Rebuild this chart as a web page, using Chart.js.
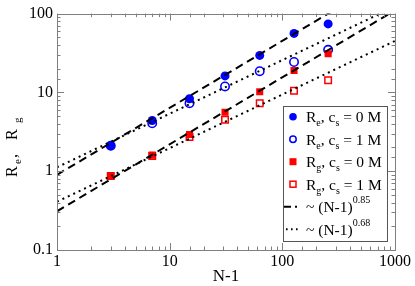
<!DOCTYPE html>
<html>
<head>
<meta charset="utf-8">
<script src="https://cdn.jsdelivr.net/npm/chart.js@4/dist/chart.umd.min.js"></script>
<style>
html,body{margin:0;padding:0;background:#fff;}
#wrap{width:415px;height:286px;position:relative;}
</style>
</head>
<body>
<div id="wrap"><canvas id="c" width="415" height="286"></canvas></div>
<script>
// ---- data ----
const nMinus1 = [3, 7, 15, 31, 63, 127, 255];
const reSalt0 = [2.1, 4.4, 8.3, 16.2, 29.5, 56, 74];
const reSalt1 = [2.1, 4.05, 7.3, 11.9, 18.6, 24.3, 34.7];
const rgSalt0 = [0.87, 1.6, 2.93, 5.6, 10.2, 19.0, 31.0];
const rgSalt1 = [0.87, 1.56, 2.72, 4.5, 7.3, 10.5, 14.3];
// fit lines: endpoints at N-1 = 1 and N-1 = 1000
const fitX = [1, 1000];
const fitRe085 = [0.9, 319];
const fitRg085 = [0.31, 110];
const fitRe068 = [1.12, 123];
const fitRg068 = [0.41, 45];
const xTickLabels = ['1', '10', '100', '1000'];
const yTickLabels = ['0.1', '1', '10', '100'];

const BLUE = '#0000ff', RED = '#ff0000';
const pts = (xs, ys) => xs.map((x, i) => ({x: x, y: ys[i]}));
const SERIF = '"Liberation Serif", "DejaVu Serif", serif';

function isDecade(v){ const l = Math.log10(v); return Math.abs(l - Math.round(l)) < 1e-6; }
function fmt(v){ return String(Number(v.toPrecision(3))); }

function richText(ctx, x, y, parts){
  // parts: [text, mode] mode: 0 normal, 1 sub, 2 sup
  let cx = x;
  for (const [t, m] of parts){
    const size = m ? 10 : 15.5;
    ctx.font = size + 'px ' + SERIF;
    const dy = m === 1 ? 4 : (m === 2 ? -9 : 0);
    ctx.fillText(t, cx, y + dy);
    cx += ctx.measureText(t).width;
  }
  return cx;
}

const decorPlugin = {
  id: 'decor',
  afterDraw(chart){
    const ctx = chart.ctx;
    const a = chart.chartArea;
    const xs = chart.scales.x, ys = chart.scales.y;
    ctx.save();
    // frame
    ctx.strokeStyle = '#7f7f7f';
    ctx.lineWidth = 1;
    ctx.strokeRect(Math.round(a.left) + 0.5, Math.round(a.top) + 0.5,
                   Math.round(a.right - a.left), Math.round(a.bottom - a.top));
    ctx.beginPath();
    for (const t of xs.ticks){
      const px = Math.round(xs.getPixelForValue(t.value)) + 0.5;
      const len = isDecade(t.value) ? 7 : 3.5;
      ctx.moveTo(px, a.bottom); ctx.lineTo(px, a.bottom - len);
      ctx.moveTo(px, a.top); ctx.lineTo(px, a.top + len);
    }
    for (const t of ys.ticks){
      const py = Math.round(ys.getPixelForValue(t.value)) + 0.5;
      const len = isDecade(t.value) ? 7 : 3.5;
      ctx.moveTo(a.left, py); ctx.lineTo(a.left + len, py);
      ctx.moveTo(a.right, py); ctx.lineTo(a.right - len, py);
    }
    ctx.stroke();

    // axis titles
    ctx.fillStyle = '#000';
    ctx.textBaseline = 'alphabetic';
    ctx.textAlign = 'center';
    ctx.font = '17px ' + SERIF;
    ctx.fillText('N-1', (a.left + a.right) / 2, 281);
    ctx.textAlign = 'left';
    ctx.save();
    ctx.translate(17, 177);
    ctx.rotate(-Math.PI / 2);
    ctx.font = '16px ' + SERIF;
    ctx.fillText('R', 0, 0);
    ctx.font = '11px ' + SERIF;
    ctx.fillText('e', 13, 4);
    ctx.font = '16px ' + SERIF;
    ctx.fillText(',', 19, 0);
    ctx.fillText('R', 37, 0);
    ctx.font = '11px ' + SERIF;
    ctx.fillText('g', 54, 4);
    ctx.restore();

    // legend
    const L = 283, T = 106, R = 387, B = 241;
    ctx.fillStyle = '#fff';
    ctx.fillRect(L, T, R - L, B - T);
    ctx.strokeStyle = '#555';
    ctx.lineWidth = 1;
    ctx.strokeRect(L + 0.5, T + 0.5, R - L, B - T);
    const rows = [116.7, 139.2, 161.7, 184.2, 206.7, 229.2];
    const sx = 293, tx = 306;
    // symbols
    ctx.lineWidth = 1.5;
    ctx.fillStyle = BLUE; ctx.beginPath(); ctx.arc(sx, rows[0], 3.8, 0, 2*Math.PI); ctx.fill();
    ctx.strokeStyle = BLUE; ctx.beginPath(); ctx.arc(sx, rows[1], 3.2, 0, 2*Math.PI); ctx.stroke();
    ctx.fillStyle = RED; ctx.fillRect(sx - 3.5, rows[2] - 3.5, 7, 7);
    ctx.strokeStyle = RED; ctx.strokeRect(sx - 3, rows[3] - 3, 6, 6);
    ctx.strokeStyle = '#000'; ctx.lineWidth = 2;
    ctx.beginPath(); ctx.moveTo(284, rows[4]); ctx.lineTo(291, rows[4]);
    ctx.moveTo(295, rows[4]); ctx.lineTo(297, rows[4]); ctx.stroke();
    ctx.beginPath();
    for (const dx of [286, 291, 296]){ ctx.moveTo(dx, rows[5]); ctx.lineTo(dx + 1.6, rows[5]); }
    ctx.stroke();
    // texts
    ctx.fillStyle = '#000';
    ctx.textAlign = 'left';
    const bl = 5.5;
    richText(ctx, tx, rows[0] + bl, [['R',0],['e',1],[', c',0],['s',1],[' = 0 M',0]]);
    richText(ctx, tx, rows[1] + bl, [['R',0],['e',1],[', c',0],['s',1],[' = 1 M',0]]);
    richText(ctx, tx, rows[2] + bl, [['R',0],['g',1],[', c',0],['s',1],[' = 0 M',0]]);
    richText(ctx, tx, rows[3] + bl, [['R',0],['g',1],[', c',0],['s',1],[' = 1 M',0]]);
    richText(ctx, tx, rows[4] + bl, [['~ (N-1)',0],['0.85',2]]);
    richText(ctx, tx, rows[5] + bl, [['~ (N-1)',0],['0.68',2]]);
    ctx.restore();
  }
};

const fitStyle = (dash) => ({
  showLine: true, borderColor: '#000', borderWidth: 2, borderDash: dash,
  pointRadius: 0, fill: false, order: 0
});

new Chart(document.getElementById('c'), {
  type: 'scatter',
  data: {
    datasets: [
      Object.assign({data: pts(fitX, fitRe085)}, fitStyle([8, 5])),
      Object.assign({data: pts(fitX, fitRg085)}, fitStyle([8, 5])),
      Object.assign({data: pts(fitX, fitRe068)}, fitStyle([2, 4])),
      Object.assign({data: pts(fitX, fitRg068)}, fitStyle([2, 4])),
      {data: pts(nMinus1, reSalt1), pointStyle: 'circle', pointRadius: 4.2, borderWidth: 1.6,
       borderColor: BLUE, backgroundColor: 'rgba(0,0,0,0)', order: 2},
      {data: pts(nMinus1, reSalt0), pointStyle: 'circle', pointRadius: 4.5, borderWidth: 0,
       borderColor: BLUE, backgroundColor: BLUE, order: 1},
      {data: pts(nMinus1, rgSalt1), pointStyle: 'rect', pointRadius: 4.6, borderWidth: 1.5,
       borderColor: RED, backgroundColor: 'rgba(0,0,0,0)', order: 2},
      {data: pts(nMinus1, rgSalt0), pointStyle: 'rect', pointRadius: 5, borderWidth: 0,
       borderColor: RED, backgroundColor: RED, order: 1}
    ]
  },
  options: {
    responsive: false,
    animation: false,
    events: [],
    layout: {padding: {left: 0, right: 20, top: 10, bottom: 0}},
    plugins: {legend: {display: false}, tooltip: {enabled: false}},
    scales: {
      x: {
        type: 'logarithmic', min: 1, max: 1000,
        grid: {display: false, drawTicks: false}, border: {display: false},
        ticks: {autoSkip: false, maxRotation: 0, color: '#000', padding: 2,
                font: {family: SERIF, size: 16},
                callback: (v) => isDecade(v) && xTickLabels.includes(fmt(v)) ? fmt(v) : ''},
        afterFit: (s) => { s.height = 36; }
      },
      y: {
        type: 'logarithmic', min: 0.1, max: 100,
        grid: {display: false, drawTicks: false}, border: {display: false},
        ticks: {autoSkip: false, color: '#000', padding: 4,
                font: {family: SERIF, size: 16},
                callback: (v) => isDecade(v) && yTickLabels.includes(fmt(v)) ? fmt(v) : ''},
        afterFit: (s) => { s.width = 57; }
      }
    }
  },
  plugins: [decorPlugin]
});
</script>
</body>
</html>
